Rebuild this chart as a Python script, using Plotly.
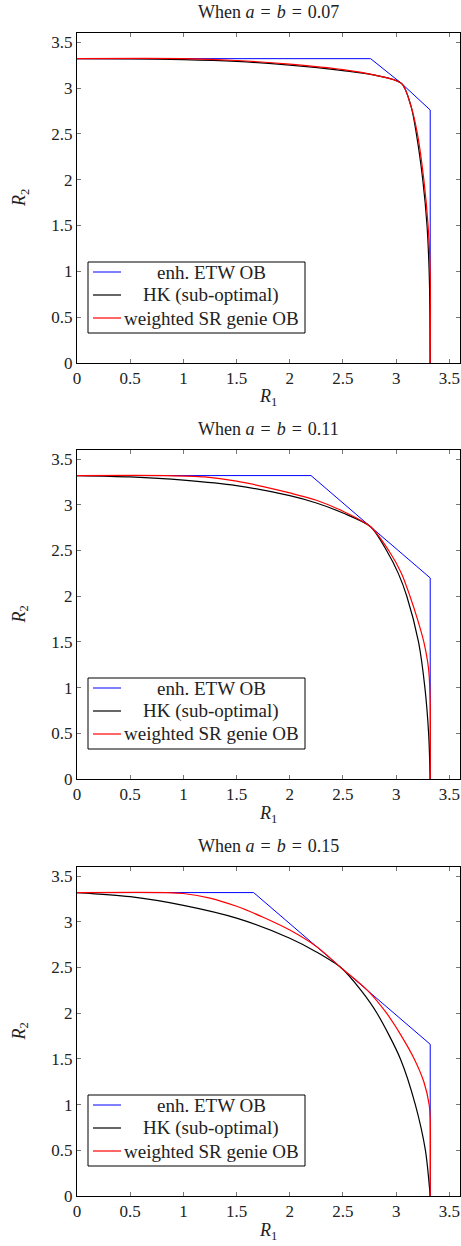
import plotly.graph_objects as go

# ---------------- data ----------------
SP = "\u00a0\u200a"
titles = [f"When <i>a</i>{SP}={SP}<i>b</i>{SP}={SP}0.07",
          f"When <i>a</i>{SP}={SP}<i>b</i>{SP}={SP}0.11",
          f"When <i>a</i>{SP}={SP}<i>b</i>{SP}={SP}0.15"]
series_names = ["enh. ETW OB", "HK (sub-optimal)", "weighted SR genie OB"]
series_colors = ["#0000ff", "#000000", "#ff0000"]
series_widths = [1.0, 1.2, 1.2]
series_shapes = ["linear", "spline", "spline"]

# a = b = 0.07
etw1_x = [0, 2.76, 3.05, 3.32, 3.32]
etw1_y = [3.32, 3.32, 3.05, 2.76, 0]
hk1_x = [0, 0.5, 1.0, 1.5, 2.0, 2.5, 2.8, 3.05, 3.14, 3.19, 3.25, 3.29, 3.31, 3.318, 3.32]
hk1_y = [3.32, 3.318, 3.31, 3.29, 3.25, 3.19, 3.14, 3.05, 2.8, 2.5, 2.0, 1.5, 1.0, 0.5, 0]
sr1_x = [0, 1.0, 1.5, 2.0, 2.5, 2.8, 3.05, 3.14, 3.20, 3.26, 3.30, 3.32, 3.32]
sr1_y = [3.32, 3.32, 3.30, 3.26, 3.20, 3.14, 3.05, 2.8, 2.5, 2.0, 1.5, 1.0, 0]

# a = b = 0.11
etw2_x = [0, 2.20, 2.76, 3.32, 3.32]
etw2_y = [3.32, 3.32, 2.76, 2.20, 0]
hk2_x = [0, 0.5, 1.0, 1.5, 2.0, 2.25, 2.5, 2.76, 2.91, 3.02, 3.10, 3.21, 3.27, 3.305, 3.32]
hk2_y = [3.32, 3.305, 3.27, 3.21, 3.10, 3.02, 2.91, 2.76, 2.5, 2.25, 2.0, 1.5, 1.0, 0.5, 0]
sr2_x = [0, 0.85, 1.2, 1.5, 1.75, 2.0, 2.25, 2.5, 2.76, 2.93, 3.05, 3.13, 3.20, 3.26, 3.305, 3.32, 3.32]
sr2_y = [3.32, 3.32, 3.305, 3.26, 3.20, 3.13, 3.05, 2.93, 2.76, 2.5, 2.25, 2.0, 1.75, 1.5, 1.2, 0.85, 0]

# a = b = 0.15
etw3_x = [0, 1.66, 2.49, 3.32, 3.32]
etw3_y = [3.32, 3.32, 2.49, 1.66, 0]
hk3_x = [0, 0.5, 1.0, 1.5, 2.0, 2.25, 2.49, 2.67, 2.82, 3.04, 3.18, 3.275, 3.32]
hk3_y = [3.32, 3.275, 3.18, 3.04, 2.82, 2.67, 2.49, 2.25, 2.0, 1.5, 1.0, 0.5, 0]
sr3_x = [0, 0.85, 1.0, 1.25, 1.5, 1.75, 2.0, 2.25, 2.49, 2.73, 2.91, 3.05, 3.17, 3.26, 3.31, 3.32, 3.32]
sr3_y = [3.32, 3.32, 3.31, 3.26, 3.17, 3.05, 2.91, 2.73, 2.49, 2.25, 2.0, 1.75, 1.5, 1.25, 1.0, 0.85, 0]

panels = [
    [(etw1_x, etw1_y), (hk1_x, hk1_y), (sr1_x, sr1_y)],
    [(etw2_x, etw2_y), (hk2_x, hk2_y), (sr2_x, sr2_y)],
    [(etw3_x, etw3_y), (hk3_x, hk3_y), (sr3_x, sr3_y)],
]

# ---------------- layout geometry (pixels) ----------------
H = 1246
W = 461
ML, MR = 77, 1
PW = W - ML - MR
tops = [33, 450, 867]
bottoms = [363, 779, 1196]
legend_bottoms = [333, 749, 1166]
LEG_L, LEG_R, LEG_H = 88, 305, 71
LEG_ROWS = [10, 33, 56]
SAMPLE_L, SAMPLE_R = 93, 121
LEG_TEXT_CX = 211

FONT = '"Liberation Serif", "DejaVu Serif", "Times New Roman", serif'
TXT = "#222"


def px(xp):
    return (xp - ML) / PW


def py(yp):
    return 1 - yp / H


fig = go.Figure()
layout = dict(
    width=W, height=H,
    margin=dict(l=ML, r=MR, t=0, b=0, autoexpand=False),
    plot_bgcolor="white", paper_bgcolor="white",
    font=dict(family=FONT, size=16, color=TXT),
    showlegend=False,
)
annotations = []
shapes = []

for i, panel in enumerate(panels):
    xa = "x" if i == 0 else f"x{i+1}"
    ya = "y" if i == 0 else f"y{i+1}"
    for (xs, ys), name, col, lw, shp in zip(panel, series_names, series_colors,
                                            series_widths, series_shapes):
        fig.add_trace(go.Scatter(
            x=xs, y=ys, mode="lines", name=name,
            line=dict(color=col, width=lw, shape=shp, smoothing=0.8),
            xaxis=xa, yaxis=ya, hoverinfo="skip",
        ))
    d0 = py(bottoms[i])
    d1 = py(tops[i])
    axcommon = dict(
        range=[0, 3.6], dtick=0.5, tick0=0, automargin=False,
        showline=True, linecolor="#000", linewidth=1, mirror="allticks",
        ticks="inside", ticklen=4, tickcolor="#777", tickwidth=1,
        showgrid=False, zeroline=False,
        tickfont=dict(family=FONT, size=17, color=TXT),
    )
    layout["xaxis" if i == 0 else f"xaxis{i+1}"] = dict(
        axcommon, domain=[0, 1], anchor=ya)
    layout["yaxis" if i == 0 else f"yaxis{i+1}"] = dict(
        axcommon, domain=[d0, d1], anchor=xa)

    # legend box (drawn inside the panel)
    lb = legend_bottoms[i]
    lt = lb - LEG_H
    shapes.append(dict(type="rect", xref="paper", yref="paper",
                       x0=px(LEG_L), x1=px(LEG_R), y0=py(lb), y1=py(lt),
                       line=dict(color="#000", width=1), fillcolor="white",
                       layer="above"))
    for r, name, col, lw in zip(LEG_ROWS, series_names, series_colors, series_widths):
        yc = lt + r
        shapes.append(dict(type="line", xref="paper", yref="paper",
                           x0=px(SAMPLE_L), x1=px(SAMPLE_R), y0=py(yc), y1=py(yc),
                           line=dict(color=col, width=lw), layer="above"))
        annotations.append(dict(
            text=name, xref="paper", yref="paper",
            x=px(LEG_TEXT_CX), y=py(yc), xanchor="center", yanchor="middle",
            showarrow=False, font=dict(family=FONT, size=19, color=TXT)))

    annotations.append(dict(
        text=titles[i], xref="paper", yref="paper",
        x=0.5, y=py(tops[i] - 21), xanchor="center", yanchor="middle",
        showarrow=False, font=dict(family=FONT, size=18, color=TXT)))
    annotations.append(dict(
        text="<i>R</i><sub>1</sub>", xref="paper", yref="paper",
        x=px(268), y=py(bottoms[i] + 35),
        xanchor="center", yanchor="middle",
        showarrow=False, font=dict(family=FONT, size=18, color=TXT)))
    annotations.append(dict(
        text="<i>R</i><sub>2</sub>", xref="paper", yref="paper",
        x=px(20), y=py((tops[i] + bottoms[i]) / 2),
        xanchor="center", yanchor="middle", textangle=-90,
        showarrow=False, font=dict(family=FONT, size=18, color=TXT)))

layout["annotations"] = annotations
layout["shapes"] = shapes
fig.update_layout(**layout)
fig.write_html("out.html",
               config={"displayModeBar": False, "staticPlot": True},
               post_script="document.body.style.margin='0px';document.body.style.overflow='hidden';")
